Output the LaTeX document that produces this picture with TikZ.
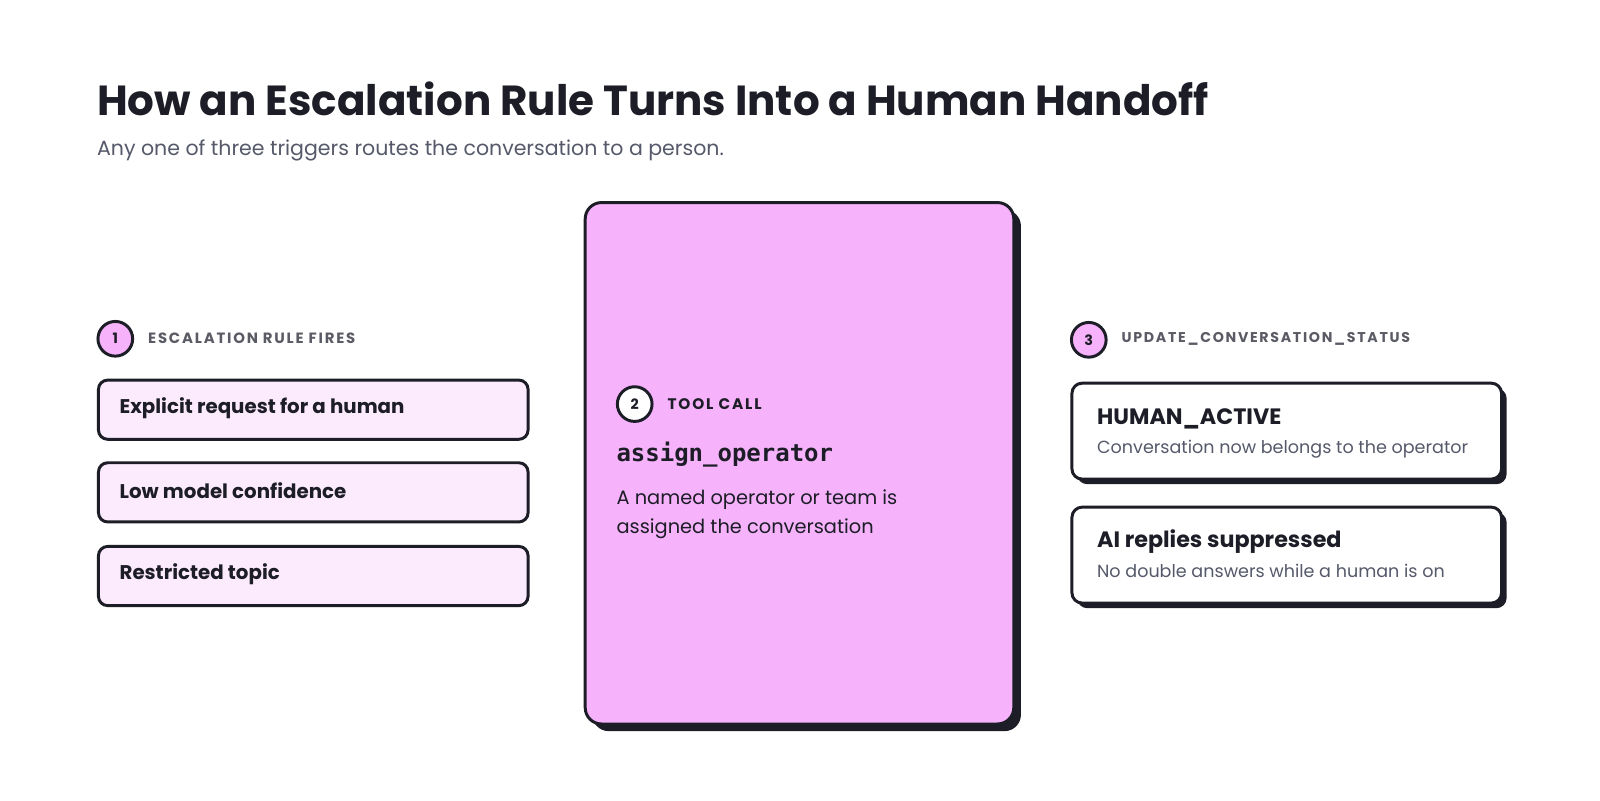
\documentclass[tikz,border=0pt]{standalone}
\usepackage{fontspec}
\setmainfont{Poppins}
\newfontfamily\monob{DejaVu Sans Mono}
\usetikzlibrary{shadows}
\definecolor{ink}{HTML}{1C1D26}
\definecolor{greytxt}{HTML}{5A5B64}
\definecolor{subgrey}{HTML}{55596A}
\definecolor{pinkA}{HTML}{F6B3FB}
\definecolor{pinkB}{HTML}{FCEAFD}
\tikzset{
  trigbox/.style={draw=ink, line width=2.9pt, rounded corners=9pt, fill=pinkB, minimum width=421pt, minimum height=58pt, inner sep=0pt},
  statbox/.style={draw=ink, line width=2.9pt, rounded corners=10pt, fill=white, minimum width=421pt, minimum height=94pt, inner sep=0pt,
     general shadow={fill=ink, shadow xshift=5pt, shadow yshift=-5pt}},
  bigbox/.style={draw=ink, line width=2.9pt, rounded corners=16pt, fill=pinkA, minimum width=420pt, minimum height=511pt, inner sep=0pt,
     general shadow={fill=ink, shadow xshift=7pt, shadow yshift=-7pt}},
  numc/.style={circle, draw=ink, line width=2.9pt, minimum size=34pt, inner sep=0pt, font=\fontsize{14}{14}\selectfont\bfseries, text=ink},
  steplabel/.style={anchor=west, inner sep=0pt, text=greytxt, font=\fontsize{14.6}{14.6}\selectfont\bfseries\addfontfeatures{LetterSpace=12}},
  trigtxt/.style={anchor=west, inner sep=0pt, text=ink, font=\fontsize{19.4}{19.4}\selectfont\bfseries},
  sttitle/.style={anchor=base west, inner sep=0pt, text=ink, font=\fontsize{21.8}{21.8}\selectfont\bfseries},
  stsub/.style={anchor=base west, inner sep=0pt, text=subgrey, font=\fontsize{17.2}{17.2}\selectfont},
}
\begin{document}
\begin{tikzpicture}[x=1pt,y=-1pt]
\useasboundingbox[fill=white] (0,0) rectangle (1568,784);
% title
\node[anchor=base west, inner sep=0pt, text=ink, font=\fontsize{41.2}{41.2}\selectfont\bfseries] (title) at (95,113) {How an Escalation Rule Turns Into a Human Handoff};
\node[anchor=base west, inner sep=0pt, text=subgrey, font=\fontsize{20.1}{20.1}\selectfont] (subtitle) at (95,152) {Any one of three triggers routes the conversation to a person.};
% left column
\node[numc, fill=pinkA] (n1) at (113,332) {1};
\node[steplabel] (l1) at (145,331) {ESCALATION RULE FIRES};
\node[trigbox] (t1) at (307,401.5) {};
\node[trigbox] (t2) at (307,482.5) {};
\node[trigbox] (t3) at (307,564.5) {};
\node[trigtxt] (t1t) at (117,400) {Explicit request for a human};
\node[trigtxt] (t2t) at (117,481) {Low model confidence};
\node[trigtxt] (t3t) at (117,563) {Restricted topic};
% center
\node[bigbox] (big) at (783.5,454) {};
\node[numc, fill=white] (n2) at (622,396) {2};
\node[steplabel, text=ink, font=\fontsize{15}{15}\selectfont\bfseries\addfontfeatures{LetterSpace=12}] (l2) at (654,396) {TOOL CALL};
\node[anchor=base west, inner sep=0pt, text=ink, font=\fontsize{23.5}{23.5}\monob\bfseries] (fn) at (604,452) {assign\_operator};
\node[anchor=base west, inner sep=0pt, text=ink, font=\fontsize{19}{19}\selectfont] (d1) at (604,494) {A named operator or team is};
\node[anchor=base west, inner sep=0pt, text=ink, font=\fontsize{19}{19}\selectfont] (d2) at (604,523) {assigned the conversation};
% right
\node[numc, fill=pinkA] (n3) at (1067,333) {3};
\node[steplabel, font=\fontsize{13.9}{13.9}\selectfont\bfseries\addfontfeatures{LetterSpace=12}] (l3) at (1099,332) {UPDATE\_CONVERSATION\_STATUS};
\node[statbox] (s1) at (1261,422.5) {};
\node[statbox] (s2) at (1261,544) {};
\node[sttitle] (s1t) at (1075,416) {HUMAN\_ACTIVE};
\node[stsub] (s1s) at (1075,444) {Conversation now belongs to the operator};
\node[sttitle] (s2t) at (1075,537) {AI replies suppressed};
\node[stsub] (s2s) at (1075,566) {No double answers while a human is on};
\end{tikzpicture}
\end{document}
